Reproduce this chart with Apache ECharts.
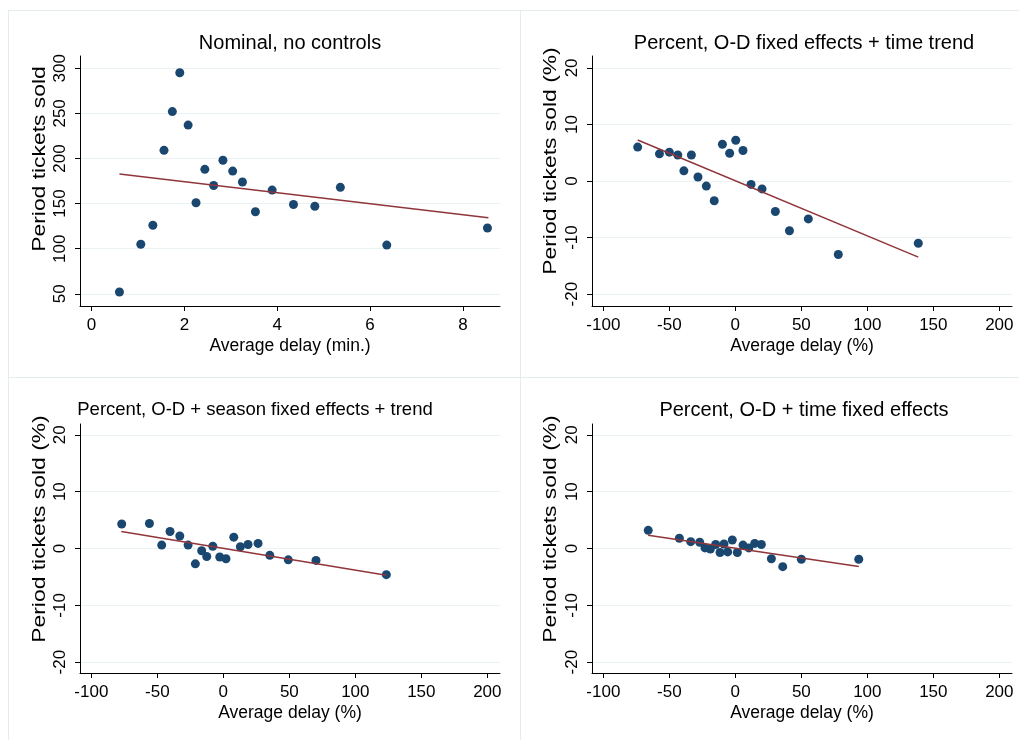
<!DOCTYPE html>
<html>
<head>
<meta charset="utf-8">
<script src="https://cdn.jsdelivr.net/npm/echarts@6/dist/echarts.min.js"></script>
<style>
html,body{margin:0;padding:0;background:#fff;}
#chart{width:1019px;height:740px;}
</style>
</head>
<body>
<div id="chart"></div>
<script>
// ---------- data ----------
const titles = [
  'Nominal, no controls',
  'Percent, O-D fixed effects + time trend',
  'Percent, O-D + season fixed effects + trend',
  'Percent, O-D + time fixed effects'
];
const xNames = ['Average delay (min.)', 'Average delay (%)', 'Average delay (%)', 'Average delay (%)'];
const yNames = ['Period tickets sold', 'Period tickets sold (%)', 'Period tickets sold (%)', 'Period tickets sold (%)'];

const xTicksNominal = [0, 2, 4, 6, 8];
const yTicksNominal = [50, 100, 150, 200, 250, 300];
const xTicksPercent = [-100, -50, 0, 50, 100, 150, 200];
const yTicksPercent = [-20, -10, 0, 10, 20];

const p1X = [0.60, 1.06, 1.32, 1.56, 1.74, 1.90, 2.08, 2.25, 2.44, 2.63, 2.83, 3.04, 3.25, 3.53, 3.89, 4.35, 4.81, 5.36, 6.36, 8.53];
const p1Y = [52, 105, 126, 209, 252, 295, 237, 151, 188, 170, 198, 186, 174, 141, 165, 149, 147, 168, 104, 123];
const fit1X = [0.60, 8.55];
const fit1Y = [182.7, 134.4];

const p2X = [-74, -57.5, -50, -43.6, -33.3, -39, -28.3, -22, -16, -9.8, -4.3, 0.3, 5.8, 11.9, 20.2, 30.3, 41, 55.3, 78, 138.6];
const p2Y = [6.0, 4.8, 5.1, 4.6, 4.6, 1.8, 0.7, -0.9, -3.5, 6.5, 4.9, 7.2, 5.4, -0.6, -1.4, -5.4, -8.8, -6.7, -13.0, -11.0];
const fit2X = [-74, 138.6];
const fit2Y = [7.26, -13.45];

const p3X = [-77, -56, -46.7, -40.4, -33, -26.7, -21.2, -16.4, -12.6, -8, -2.7, 2, 7.9, 12.9, 18.7, 26.3, 35.2, 49.2, 70.2, 123.5];
const p3Y = [4.3, 4.4, 0.6, 3.0, 2.2, 0.6, -2.7, -0.4, -1.4, 0.4, -1.5, -1.8, 2.0, 0.3, 0.7, 0.9, -1.2, -2.0, -2.1, -4.6];
const fit3X = [-77.3, 123.5];
const fit3Y = [3.0, -4.7];

const p4X = [-66, -42.4, -33.8, -27, -23, -18.9, -14.9, -11.6, -8.6, -5.8, -2.3, 1.5, 5.8, 10.2, 14.7, 19.7, 27.3, 35.9, 50, 93.5];
const p4Y = [3.2, 1.8, 1.2, 1.1, 0.1, -0.1, 0.7, -0.7, 0.8, -0.6, 1.5, -0.7, 0.6, 0.1, 0.9, 0.7, -1.8, -3.2, -1.9, -1.9];
const fit4X = [-66.1, 93.5];
const fit4Y = [2.35, -3.17];

// ---------- layout / style ----------
const FONT = "'Liberation Sans', Arial, sans-serif";
const MARKER = '#1a476f';
const FITC = '#90353b';
const GRIDC = '#eaf2f3';
const BORDERC = '#e4eded';

const grids = [
  {left: 80, top: 56, width: 420, height: 250},
  {left: 592, top: 56, width: 420, height: 250},
  {left: 80, top: 424, width: 420, height: 249},
  {left: 592, top: 424, width: 420, height: 249}
];
const xRanges = [[-0.25, 8.8], [-108.6, 209.6], [-108.6, 209.6], [-108.6, 209.6]];
const yRanges = [[36.5, 313.6], [-22.1, 22.1], [-21.9, 21.9], [-21.9, 21.9]];
const xTickSets = [xTicksNominal, xTicksPercent, xTicksPercent, xTicksPercent];
const yTickSets = [yTicksNominal, yTicksPercent, yTicksPercent, yTicksPercent];
const scatterX = [p1X, p2X, p3X, p4X];
const scatterY = [p1Y, p2Y, p3Y, p4Y];
const fitX = [fit1X, fit2X, fit3X, fit4X];
const fitY = [fit1Y, fit2Y, fit3Y, fit4Y];
const titlePos = [[290, 43], [804, 43], [255, 410], [804, 410]];
const titleSizes = [20, 20, 18.5, 20];
const yNamePos = [[40, 159], [551, 161], [40, 529], [551, 529]];

const zip = (a, b) => a.map((v, i) => [v, b[i]]);

const xAxis = grids.map((g, i) => ({
  type: 'value', gridIndex: i, min: xRanges[i][0], max: xRanges[i][1],
  name: xNames[i], nameLocation: 'middle', nameGap: 31,
  nameTextStyle: {fontFamily: FONT, fontSize: 17.5, color: '#000'},
  axisLine: {show: true, onZero: false, lineStyle: {color: '#000', width: 1}},
  axisTick: {show: true, length: 5, lineStyle: {color: '#000'}, customValues: xTickSets[i]},
  axisLabel: {fontFamily: FONT, fontSize: 17, color: '#000', margin: 11, customValues: xTickSets[i], showMinLabel: true, showMaxLabel: true},
  splitLine: {show: false}
}));

const yAxis = grids.map((g, i) => ({
  type: 'value', gridIndex: i, min: yRanges[i][0], max: yRanges[i][1],
  axisLine: {show: true, onZero: false, lineStyle: {color: '#000', width: 1}},
  axisTick: {show: true, length: 5, lineStyle: {color: '#000'}, customValues: yTickSets[i]},
  axisLabel: {fontFamily: FONT, fontSize: 17, color: '#000', margin: 11, rotate: 90, customValues: yTickSets[i]},
  splitLine: {show: true, lineStyle: {color: GRIDC, width: 1}}
}));

const series = [];
grids.forEach((g, i) => {
  series.push({
    type: 'scatter', xAxisIndex: i, yAxisIndex: i,
    data: zip(scatterX[i], scatterY[i]),
    symbol: 'circle', symbolSize: 9,
    itemStyle: {color: MARKER, opacity: 1},
    z: 3
  });
  series.push({
    type: 'line', xAxisIndex: i, yAxisIndex: i,
    data: zip(fitX[i], fitY[i]),
    showSymbol: false, symbol: 'none',
    lineStyle: {color: FITC, width: 1.5},
    z: 4, silent: true
  });
});

const graphic = [
  {type: 'line', shape: {x1: 8, y1: 10.5, x2: 1019, y2: 10.5}, style: {stroke: BORDERC, lineWidth: 1}},
  {type: 'line', shape: {x1: 8.5, y1: 10, x2: 8.5, y2: 740}, style: {stroke: BORDERC, lineWidth: 1}},
  {type: 'line', shape: {x1: 520.5, y1: 10, x2: 520.5, y2: 740}, style: {stroke: BORDERC, lineWidth: 1}},
  {type: 'line', shape: {x1: 8, y1: 377.5, x2: 1019, y2: 377.5}, style: {stroke: BORDERC, lineWidth: 1}}
];
titles.forEach((t, i) => {
  graphic.push({
    type: 'text', x: titlePos[i][0], y: titlePos[i][1],
    style: {text: t, fontFamily: FONT, fontSize: titleSizes[i], fill: '#000', align: 'center', verticalAlign: 'middle'}
  });
});
yNames.forEach((t, i) => {
  graphic.push({
    type: 'text', x: yNamePos[i][0], y: yNamePos[i][1],
    rotation: Math.PI / 2, scaleX: 1.27, scaleY: 1,
    style: {text: t, fontFamily: FONT, fontSize: 18, fill: '#000', align: 'center', verticalAlign: 'middle'}
  });
});

const chart = echarts.init(document.getElementById('chart'), null, {renderer: 'canvas'});
chart.setOption({
  backgroundColor: '#fff',
  animation: false,
  grid: grids.map(g => Object.assign({containLabel: false}, g)),
  xAxis, yAxis, series, graphic
});
</script>
</body>
</html>
